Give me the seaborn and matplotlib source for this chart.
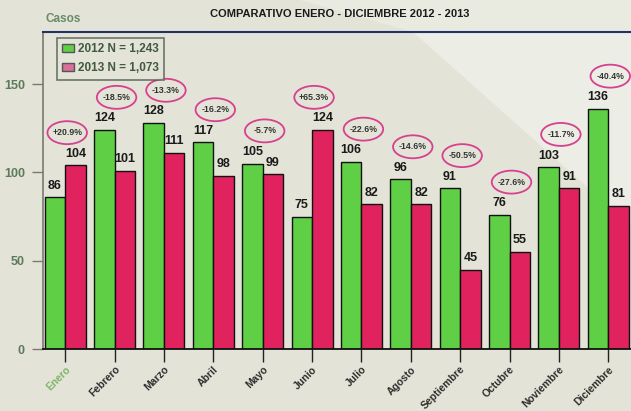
import matplotlib
matplotlib.use("Agg")
import matplotlib.pyplot as plt
import seaborn as sns
import pandas as pd
from matplotlib.patches import Ellipse, Polygon, Patch

meses = ["Enero", "Febrero", "Marzo", "Abril", "Mayo", "Junio", "Julio",
         "Agosto", "Septiembre", "Octubre", "Noviembre", "Diciembre"]
casos_2012 = [86, 124, 128, 117, 105, 75, 106, 96, 91, 76, 103, 136]
casos_2013 = [104, 101, 111, 98, 99, 124, 82, 82, 45, 55, 91, 81]
variacion = ["+20.9%", "-18.5%", "-13.3%", "-16.2%", "-5.7%", "+65.3%",
             "-22.6%", "-14.6%", "-50.5%", "-27.6%", "-11.7%", "-40.4%"]
series = ["2012 N = 1,243", "2013 N = 1,073"]
yticks = [0, 50, 100, 150]

df = pd.DataFrame({
    "mes": meses * 2,
    "casos": casos_2012 + casos_2013,
    "serie": [series[0]] * 12 + [series[1]] * 12,
})

sns.set_theme(style="white")
plt.rcParams["font.family"] = ["Liberation Sans", "DejaVu Sans"]

bg = "#e3e4d7"
fig = plt.figure(figsize=(6.31, 4.11), dpi=100, facecolor=bg)
# lighter diagonal shading in upper right
fig.patches.append(Polygon([(413 / 631, 1 - 32 / 411), (1, 1 - 32 / 411), (1, 1 - 226 / 411)],
                           closed=True, transform=fig.transFigure,
                           facecolor="#eceee5", edgecolor="none", zorder=-5))
fig.patches.append(Polygon([(300 / 631, 1), (1, 1), (1, 1 - 32 / 411), (413 / 631, 1 - 32 / 411)],
                           closed=True, transform=fig.transFigure,
                           facecolor="#e9ebe1", edgecolor="none", zorder=-5))

ax = fig.add_axes([43 / 631, 1 - 349 / 411, 1 - 43 / 631, (349 - 32) / 411])
ax.set_facecolor("none")
ax.set_zorder(2)

green = "#5fcf45"
red = "#e0225e"
sns.barplot(data=df, x="mes", y="casos", hue="serie", order=meses,
            hue_order=series, palette=[green, red], width=0.83, saturation=1,
            edgecolor="#111111", linewidth=1.0, ax=ax, legend=False, errorbar=None)

ax.set_xlim(-0.45, 11.46)
ax.set_ylim(0, 179.5)

# bar value labels
for cont in ax.containers:
    ax.bar_label(cont, padding=4, fontsize=9, fontweight="bold", color="#1a1a1a")

# percentage ellipses
for i, (a, b, txt) in enumerate(zip(casos_2012, casos_2013, variacion)):
    yc = max(a, b) + 18.5
    ax.add_patch(Ellipse((i + 0.04, yc), 0.8, 13, facecolor="none",
                         edgecolor="#d8408f", linewidth=1.3, zorder=5))
    ax.text(i + 0.04, yc, txt, ha="center", va="center", fontsize=6.3,
            fontweight="bold", color="#333333", zorder=6)

# spines
ax.spines["right"].set_visible(False)
ax.spines["top"].set_color("#24306a")
ax.spines["top"].set_linewidth(1.5)
ax.spines["left"].set_color("#7a7a70")
ax.spines["left"].set_linewidth(1.2)
ax.spines["bottom"].set_color("#111111")
ax.spines["bottom"].set_linewidth(1.3)

ax.set_yticks(yticks)
ax.set_yticklabels([str(v) for v in yticks], fontsize=9, fontweight="bold",
                   color="#5d7a5d")
ax.tick_params(axis="y", length=8, width=1, color="#7a7a70", pad=5, left=True)
ax.tick_params(axis="x", length=9, width=1, color="#222222", bottom=True, pad=2)
ax.set_xticks(range(12))
ax.set_xticklabels(meses, rotation=45, ha="right", rotation_mode="anchor",
                   fontsize=7.5, fontweight="bold", color="#2e2e2e")
ax.get_xticklabels()[0].set_color("#7fb36a")
ax.set_xlabel("")
ax.set_ylabel("")

# legend
handles = [Patch(facecolor=green, edgecolor="#555555"),
           Patch(facecolor="#d86f98", edgecolor="#555555")]
leg = ax.legend(handles, series, loc="upper left", bbox_to_anchor=(0.014, 1.0),
                frameon=True, fontsize=8.5, handlelength=1.0, handleheight=0.7,
                handletextpad=0.3, labelspacing=0.6, borderpad=0.45, fancybox=False)
leg.get_frame().set_edgecolor("#4c5a4c")
leg.get_frame().set_linewidth(1.2)
leg.get_frame().set_facecolor(bg)
for t in leg.get_texts():
    t.set_fontweight("bold")
    t.set_color("#3f5a3f")

fig.text(340 / 631, 1 - 14 / 411, "COMPARATIVO ENERO - DICIEMBRE 2012 - 2013",
         ha="center", va="center", fontsize=8, fontweight="bold", color="#1a1a1a")
fig.text(45 / 631, 1 - 19 / 411, "Casos", ha="left", va="center", fontsize=8.5,
         fontweight="bold", color="#6a8a6a")

fig.savefig("out.png", dpi=100, facecolor=bg)
